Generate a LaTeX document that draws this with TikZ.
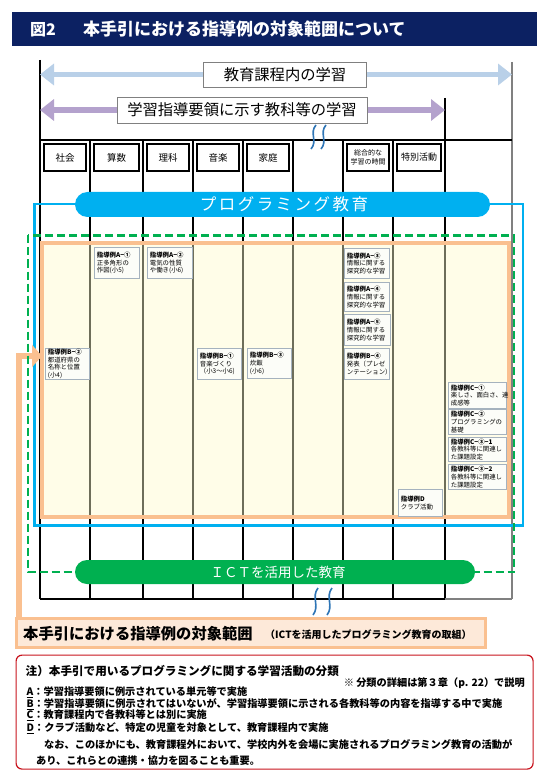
\documentclass[tikz,border=0pt]{standalone}
\usepackage{fontspec}
\setmainfont{Noto Sans CJK JP}
\newfontfamily\jpls{Noto Sans CJK JP}[LetterSpace=15]
\usetikzlibrary{arrows.meta}
\definecolor{navy}{RGB}{12,33,98}
\definecolor{arrblue}{RGB}{185,208,232}
\definecolor{arrpurp}{RGB}{180,162,205}
\definecolor{cyanbar}{RGB}{0,176,240}
\definecolor{greenbar}{RGB}{0,176,80}
\definecolor{orangeb}{RGB}{250,192,144}
\definecolor{cream}{RGB}{255,253,232}
\definecolor{peach}{RGB}{253,233,217}
\definecolor{olivel}{RGB}{110,110,90}
\definecolor{exborder}{RGB}{165,178,190}
\definecolor{exfill}{RGB}{252,253,248}
\definecolor{wavyblue}{RGB}{46,117,182}
\definecolor{notered}{RGB}{200,20,30}
\begin{document}
\begin{tikzpicture}[x=1pt,y=-1pt,
 subj/.style={draw=black, line width=1.8pt, fill=white, inner sep=0pt, minimum height=27pt, font=\fontsize{9.5}{11}\selectfont},
 exbox/.style 2 args={draw=exborder, fill=exfill, line width=0.8pt, anchor=north west, inner xsep=2.5pt, inner ysep=0pt, text width=#1, minimum height=#2, align=left, font=\fontsize{6.4}{7.8}\selectfont},
 gridline/.style={black, line width=1.6pt},
 innerline/.style={olivel, line width=2pt},
 wavy/.style={wavyblue, line width=1.6pt},
 spanarrow/.style={line width=5.5pt, {Triangle[length=14pt,width=21pt]}-{Triangle[length=14pt,width=21pt]}},
 spanlabel/.style={draw=gray, fill=white, line width=0.8pt, inner sep=0pt, font=\fontsize{15.3}{17}\selectfont},
 bartext/.style={text=white, inner sep=0pt},
 notetext/.style={anchor=west, inner sep=0pt, font=\bfseries\fontsize{10.2}{12}\selectfont},
]
\useasboundingbox (0,0) rectangle (552,783);
\fill[white] (0,0) rectangle (552,783);

% title
\node[fill=navy, minimum width=525pt, minimum height=33.5pt, anchor=north west, inner sep=0pt] (tbar) at (12,12.3) {};
\node[anchor=west, text=white, inner sep=0pt, font=\bfseries\fontsize{16}{18}\selectfont] (tnum) at (30,29.5) {図2};
\node[anchor=west, text=white, inner sep=0pt, font=\bfseries\fontsize{17}{19}\selectfont] (ttl) at (83,29.5) {本手引における指導例の対象範囲について};

% grid lines
\draw[gridline] (40,60) -- (40,599);
\draw[gray, line width=1.1pt] (512,62) -- (512,599);
\draw[gridline] (445,98) -- (445,599);
\draw[black, line width=1.3pt] (40,140) -- (512,140);
\foreach \x in {90,143,193,243,293,343,393} {\draw[gridline] (\x,140) -- (\x,599);}
\draw[gridline] (40,599) -- (445,599);
\draw[gray, line width=1.1pt] (445,599) -- (512,599);

% span arrows
\coordinate (a1l) at (40,74.5); \coordinate (a1r) at (512,74.5);
\draw[spanarrow, arrblue] (a1l) -- (a1r);
\node[spanlabel, minimum width=163pt, minimum height=25pt] (kk) at (285,74.5) {教育課程内の学習};
\coordinate (a2l) at (40,110); \coordinate (a2r) at (445,110);
\draw[spanarrow, arrpurp] (a2l) -- (a2r);
\node[spanlabel, minimum width=250pt, minimum height=26pt] (gs) at (242,110) {学習指導要領に示す教科等の学習};

% subject headers
\node[subj, minimum width=42pt] (h1) at (65,157.5) {社会};
\node[subj, minimum width=45pt] (h2) at (116.5,157.5) {算数};
\node[subj, minimum width=42pt] (h3) at (168,157.5) {理科};
\node[subj, minimum width=42pt] (h4) at (218,157.5) {音楽};
\node[subj, minimum width=42pt] (h5) at (268,157.5) {家庭};
\node[subj, minimum width=42pt, align=center, font=\fontsize{7}{8.5}\selectfont] (h6) at (368,157.5) {総合的な\\学習の時間};
\node[subj, minimum width=44pt, font=\fontsize{9}{11}\selectfont] (h7) at (419,157.5) {特別活動};

% blue frame
\draw[cyanbar, line width=2.5pt] (34.5,204) rectangle (523,525.5);

% cream box
\draw[orangeb, line width=4pt, fill=cream] (42,243) rectangle (509,517);
\foreach \x in {90,143,193,243,293,343,393,445} {\draw[innerline] (\x,245) -- (\x,515);}

% orange arrow
\coordinate (oa) at (18.5,618); \coordinate (ob) at (18.5,356); \coordinate (oc) at (42,356);
\draw[orangeb, line width=6pt, line join=miter, -{Triangle[length=10pt,width=22pt]}] (oa) -- (ob) -- (oc);

% example boxes
\node[exbox={40pt}{31pt}] (ea1) at (94,247) {{\bfseries 指導例A−①}\\正多角形の\\作図(小5)};
\node[exbox={40pt}{31pt}] (ea2) at (147,247) {{\bfseries 指導例A−②}\\電気の性質\\や働き(小6)};
\node[exbox={39pt}{31pt}] (eb2) at (45,348) {{\bfseries 指導例B−②}\\都道府県の\\名称と位置\\(小4)};
\node[exbox={39pt}{31pt}] (eb1) at (197,348) {{\bfseries 指導例B−①}\\音楽づくり\\（小3～小6)};
\node[exbox={39pt}{30pt}] (eb3) at (247,348) {{\bfseries 指導例B−③}\\炊飯\\(小6)};
\node[exbox={40pt}{30pt}] (ea3) at (344,248) {{\bfseries 指導例A−③}\\情報に関する\\探究的な学習};
\node[exbox={40pt}{29pt}] (ea4) at (344,282) {{\bfseries 指導例A−④}\\情報に関する\\探究的な学習};
\node[exbox={41pt}{31pt}] (ea5) at (344,314) {{\bfseries 指導例A−⑤}\\情報に関する\\探究的な学習};
\node[exbox={40pt}{31pt}] (eb4) at (344,348) {{\bfseries 指導例B−④}\\発表（プレゼ\\ンテーション）};
\node[exbox={53pt}{26pt}] (ec1) at (448,382) {{\bfseries 指導例C−①}\\楽しさ、面白さ、達\\成感等};
\node[exbox={53pt}{25pt}] (ec2) at (448,409) {{\bfseries 指導例C−②}\\プログラミングの\\基礎};
\node[exbox={53pt}{24pt}] (ec31) at (448,437) {{\bfseries 指導例C−③−1}\\各教科等に関連し\\た課題設定};
\node[exbox={53pt}{25pt}] (ec32) at (448,464) {{\bfseries 指導例C−③−2}\\各教科等に関連し\\た課題設定};
\node[exbox={39pt}{27pt}] (ed) at (398,489) {{\bfseries 指導例D}\\クラブ活動};

% programming bar
\node[fill=cyanbar, rounded corners=12.5pt, minimum width=415pt, minimum height=25pt, inner sep=0pt] (prog) at (282.5,204.5) {};
\node[bartext, font=\jpls\fontsize{16.5}{18}\selectfont] (progt) at (284,204.5) {プログラミング教育};

% green dashed frame and ICT bar
\draw[greenbar, line width=2.5pt, dash pattern=on 8pt off 4pt] (28,235.5) rectangle (514,572);
\node[fill=greenbar, rounded corners=12pt, minimum width=400pt, minimum height=24pt, inner sep=0pt] (ict) at (275,572) {};
\node[bartext, font=\fontsize{13.5}{15}\selectfont] (ictt) at (278,572) {ＩＣＴを活用した教育};

% break marks
\draw[wavy] (316,125) .. controls (309,133) and (318,141) .. (311,149);
\draw[wavy] (326,125) .. controls (319,133) and (328,141) .. (321,149);
\draw[wavy] (318,588) .. controls (311,597) and (320,606) .. (313,615);
\draw[wavy] (332,588) .. controls (325,597) and (334,606) .. (327,615);

% label box
\node[draw=orangeb, line width=3pt, fill=peach, minimum width=469pt, minimum height=29pt, inner sep=0pt] (lab) at (251,633) {};
\node[anchor=west, inner sep=0pt, font=\bfseries\fontsize{15.3}{17}\selectfont] (labt) at (23,634) {本手引における指導例の対象範囲};
\node[anchor=west, inner sep=0pt, font=\bfseries\fontsize{10}{12}\selectfont] (labs) at (265,635) {（ICTを活用したプログラミング教育の取組）};

% note
\node[draw=notered, line width=1.2pt, rounded corners=6pt, minimum width=517pt, minimum height=114pt, anchor=north west, inner sep=0pt] (note) at (15.5,654.5) {};
\node[notetext, font=\bfseries\fontsize{11.6}{13}\selectfont] (n0) at (25.5,671) {注）本手引で用いるプログラミングに関する学習活動の分類};
\node[notetext, anchor=east] (n1) at (525,683) {※ 分類の詳細は第３章（p. 22）で説明};
\node[notetext] (na) at (26.5,692) {\underline{A}：学習指導要領に例示されている単元等で実施};
\node[notetext] (nb) at (26.5,704) {\underline{B}：学習指導要領に例示されてはいないが、学習指導要領に示される各教科等の内容を指導する中で実施};
\node[notetext] (nc) at (26.5,715.5) {\underline{C}：教育課程内で各教科等とは別に実施};
\node[notetext] (nd) at (26.5,728) {\underline{D}：クラブ活動など、特定の児童を対象として、教育課程内で実施};
\node[notetext] (n7) at (44,745) {なお、このほかにも、教育課程外において、学校内外を会場に実施されるプログラミング教育の活動が};
\node[notetext] (n8) at (36,761) {あり、これらとの連携・協力を図ることも重要。};
\end{tikzpicture}
\end{document}
